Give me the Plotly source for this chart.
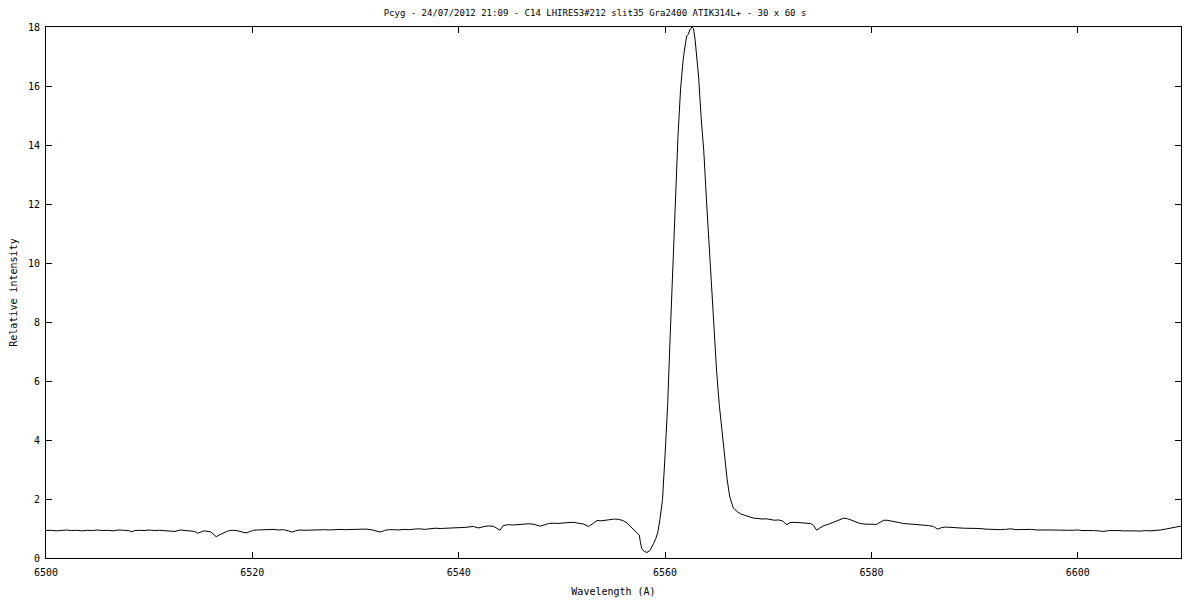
import plotly.graph_objects as go

title_text = "Pcyg - 24/07/2012 21:09 - C14 LHIRES3#212 slit35 Gra2400 ATIK314L+ - 30 x 60 s"
x_label = "Wavelength (A)"
y_label = "Relative intensity"

x_ticks = [6500, 6520, 6540, 6560, 6580, 6600]
y_ticks = [0, 2, 4, 6, 8, 10, 12, 14, 16, 18]

wavelength = [
    6500.0, 6500.5, 6501.0, 6501.5, 6502.0, 6502.5, 6503.0, 6503.5, 6504.0, 6504.5,
    6505.0, 6505.5, 6506.0, 6506.5, 6507.0, 6507.5, 6508.0, 6508.3, 6508.6, 6509.0,
    6509.5, 6510.0, 6510.5, 6511.0, 6511.5, 6512.0, 6512.5, 6513.0, 6513.5, 6514.0,
    6514.4, 6514.7, 6515.0, 6515.3, 6515.7, 6516.0, 6516.3, 6516.5, 6516.8, 6517.1,
    6517.5, 6517.8, 6518.2, 6518.6, 6519.0, 6519.4, 6519.8, 6520.1, 6520.5, 6521.0,
    6521.5, 6522.0, 6522.5, 6523.0, 6523.5, 6523.8, 6524.2, 6524.6, 6525.0, 6525.5,
    6526.0, 6526.5, 6527.0, 6527.5, 6528.0, 6528.5, 6529.0, 6529.5, 6530.0, 6530.5,
    6531.0, 6531.5, 6532.0, 6532.4, 6532.8, 6533.2, 6533.7, 6534.2, 6534.7, 6535.2,
    6535.7, 6536.2, 6536.7, 6537.2, 6537.7, 6538.2, 6538.7, 6539.2, 6539.7, 6540.2,
    6540.7, 6541.4, 6541.9, 6542.4, 6542.9, 6543.4, 6543.8, 6544.0, 6544.3, 6544.8,
    6545.3, 6545.8, 6546.3, 6546.8, 6547.3, 6547.6, 6547.9, 6548.3, 6548.7, 6549.2,
    6549.7, 6550.2, 6550.7, 6551.1, 6551.6, 6552.1, 6552.6, 6553.0, 6553.4, 6553.8,
    6554.2, 6554.7, 6555.1, 6555.5, 6555.9, 6556.3, 6556.6, 6556.9, 6557.2, 6557.5,
    6557.6, 6557.75, 6558.0, 6558.25, 6558.5, 6558.7, 6558.9, 6559.1, 6559.3, 6559.5,
    6559.75, 6560.0, 6560.25, 6560.5, 6560.75, 6561.0, 6561.25, 6561.5, 6561.75, 6562.0,
    6562.1, 6562.25, 6562.4, 6562.6, 6562.75, 6562.9, 6563.0, 6563.25, 6563.5, 6563.75,
    6564.0, 6564.25, 6564.5, 6564.75, 6565.0, 6565.25, 6565.5, 6565.75, 6566.0, 6566.25,
    6566.6, 6567.0, 6567.3, 6567.7, 6568.1, 6568.6, 6569.0, 6569.4, 6569.8, 6570.2,
    6570.6, 6571.0, 6571.4, 6571.8, 6572.1, 6572.5, 6572.9, 6573.3, 6573.7, 6574.1,
    6574.4, 6574.7, 6575.0, 6575.4, 6575.8, 6576.2, 6576.6, 6577.0, 6577.3, 6577.7,
    6578.1, 6578.5, 6578.9, 6579.3, 6579.7, 6580.1, 6580.5, 6580.9, 6581.2, 6581.5,
    6581.9, 6582.3, 6582.7, 6583.1, 6583.5, 6583.9, 6584.3, 6584.7, 6585.1, 6585.5,
    6586.0, 6586.4, 6586.8, 6587.2, 6587.6, 6588.0, 6588.5, 6589.0, 6589.5, 6590.0,
    6590.5, 6591.0, 6591.5, 6592.0, 6592.5, 6593.0, 6593.5, 6594.0, 6594.5, 6595.0,
    6595.5, 6596.0, 6596.5, 6597.0, 6597.5, 6598.0, 6598.5, 6599.0, 6599.5, 6600.0,
    6600.5, 6601.0, 6601.5, 6602.0, 6602.5, 6603.0, 6603.5, 6604.0, 6604.5, 6605.0,
    6605.5, 6606.0, 6606.5, 6607.0, 6607.5, 6608.0, 6608.5, 6609.0, 6609.5, 6610.0,
]

intensity = [
    0.93, 0.94, 0.92, 0.93, 0.95, 0.93, 0.94, 0.92, 0.94, 0.93,
    0.95, 0.93, 0.94, 0.92, 0.95, 0.94, 0.93, 0.89, 0.93, 0.94,
    0.93, 0.95, 0.93, 0.94, 0.93, 0.92, 0.90, 0.95, 0.94, 0.93,
    0.90, 0.84, 0.89, 0.92, 0.90, 0.88, 0.78, 0.72, 0.78, 0.84,
    0.90, 0.93, 0.94, 0.92, 0.89, 0.85, 0.90, 0.94, 0.95, 0.96,
    0.95, 0.97, 0.95, 0.96, 0.92, 0.88, 0.92, 0.95, 0.94, 0.95,
    0.96, 0.95, 0.96, 0.95, 0.97, 0.97, 0.96, 0.97, 0.96, 0.97,
    0.98, 0.96, 0.93, 0.88, 0.93, 0.96, 0.96, 0.95, 0.97, 0.96,
    0.98, 0.99, 0.97, 1.00, 1.01, 1.00, 1.01, 1.02, 1.01, 1.02,
    1.04, 1.07, 1.02, 1.06, 1.09, 1.07, 0.98, 0.94, 1.10, 1.13,
    1.12, 1.14, 1.15, 1.16, 1.14, 1.10, 1.08, 1.12, 1.17, 1.18,
    1.17, 1.19, 1.20, 1.21, 1.18, 1.15, 1.07, 1.18, 1.27, 1.26,
    1.28, 1.30, 1.32, 1.31, 1.27, 1.19, 1.10, 0.98, 0.88, 0.78,
    0.55, 0.30, 0.22, 0.19, 0.24, 0.35, 0.50, 0.66, 0.88, 1.30,
    1.98, 3.50, 5.20, 7.60, 9.90, 12.30, 14.30, 15.90, 16.90, 17.50,
    17.70, 17.75, 17.90, 18.00, 17.95, 17.60, 17.20, 16.30, 14.90, 13.80,
    12.20, 10.70, 9.00, 7.60, 6.30, 5.20, 4.40, 3.40, 2.70, 2.10,
    1.70, 1.57, 1.50, 1.45, 1.40, 1.35, 1.34, 1.32, 1.33, 1.31,
    1.28, 1.29, 1.25, 1.13, 1.20, 1.21, 1.20, 1.19, 1.18, 1.17,
    1.10, 0.94, 1.02, 1.10, 1.14, 1.20, 1.27, 1.32, 1.35, 1.33,
    1.28, 1.24, 1.17, 1.15, 1.14, 1.13, 1.14, 1.22, 1.28, 1.28,
    1.26, 1.24, 1.20, 1.17, 1.16, 1.15, 1.13, 1.13, 1.12, 1.10,
    1.07, 0.98, 1.03, 1.05, 1.04, 1.04, 1.02, 1.01, 1.01, 0.99,
    1.00, 0.98, 0.97, 0.98, 0.96, 0.97, 0.99, 0.96, 0.97, 0.96,
    0.97, 0.95, 0.96, 0.95, 0.95, 0.94, 0.95, 0.94, 0.94, 0.95,
    0.93, 0.94, 0.93, 0.92, 0.90, 0.93, 0.94, 0.93, 0.92, 0.93,
    0.92, 0.91, 0.93, 0.92, 0.93, 0.95, 0.98, 1.02, 1.05, 1.08,
]

FONT = "DejaVu Sans Mono"

fig = go.Figure()
fig.add_trace(go.Scatter(
    x=wavelength, y=intensity, mode="lines",
    line=dict(color="black", width=1),
    showlegend=False, hoverinfo="x+y",
))

axis_common = dict(
    showline=True, linecolor="black", linewidth=1, mirror="ticks",
    ticks="inside", ticklen=6, tickwidth=1, tickcolor="black",
    showgrid=False, zeroline=False,
    tickfont=dict(family=FONT, size=10, color="black"),
)

fig.update_xaxes(
    range=[6500, 6610], tickvals=x_ticks, ticktext=[str(v) for v in x_ticks],
    ticklabelstandoff=5,
    title=dict(text=x_label, font=dict(family=FONT, size=10, color="black"), standoff=10),
    **axis_common,
)
fig.update_yaxes(
    range=[0, 18], tickvals=y_ticks, ticktext=[str(v) for v in y_ticks],
    ticklabelstandoff=3,
    title=dict(text=y_label, font=dict(family=FONT, size=10, color="black"), standoff=11),
    **axis_common,
)

fig.update_layout(
    width=1200, height=600,
    paper_bgcolor="white", plot_bgcolor="white",
    margin=dict(l=38, r=27, t=19, b=50, autoexpand=False),
    title=dict(text=title_text, x=587 / 1200, xref="container", xanchor="center",
               y=1 - 5 / 600, yref="container", yanchor="middle",
               font=dict(family=FONT, size=9, color="black")),
)

fig.write_html("out.html")
